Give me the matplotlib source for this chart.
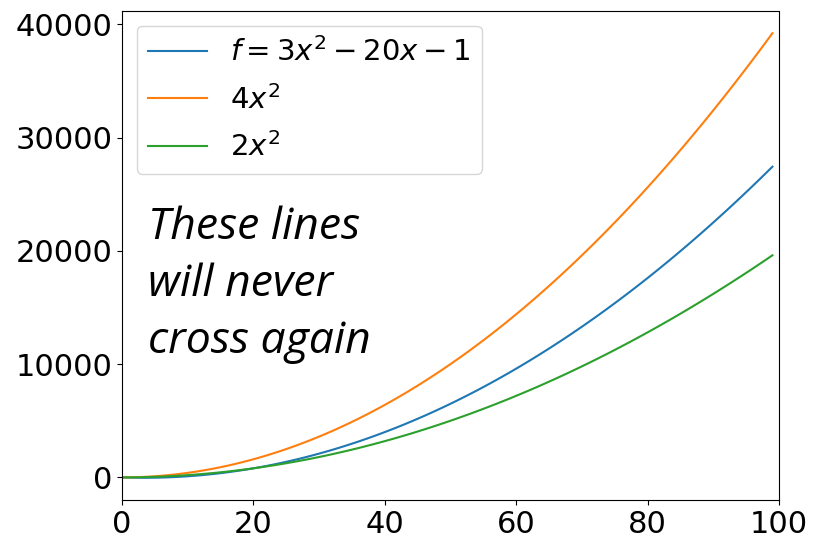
import numpy as np
import matplotlib
matplotlib.use("Agg")
import matplotlib.pyplot as plt
from matplotlib.ticker import MultipleLocator

# Sample points and polynomial coefficients (highest power first)
x = np.arange(100)
f_coeffs = [3, -20, -1]
upper_coeffs = [4, 0, 0]
lower_coeffs = [2, 0, 0]
labels = [r"$f = 3x^2 - 20x - 1$", r"$4x^2$", r"$2x^2$"]

fig = plt.figure(figsize=(8.21, 5.36), dpi=100)
ax = fig.add_axes([122 / 821, 1 - 500 / 536, 657 / 821, 489 / 536])

for coeffs, lab in zip([f_coeffs, upper_coeffs, lower_coeffs], labels):
    ax.plot(x, np.polyval(coeffs, x), label=lab, lw=1.5)

ax.set_xlim(0, 100)
ax.yaxis.set_major_locator(MultipleLocator(10000))
ax.tick_params(labelsize=22)
ax.legend(loc="upper left", fontsize=21, labelspacing=0.6)

ax.text(0.04, 0.603, "These lines\nwill never\ncross again",
        transform=ax.transAxes, ha="left", va="top",
        family="Open Sans", style="italic", fontsize=32, linespacing=1.38)

fig.savefig("out.png", dpi=100)
